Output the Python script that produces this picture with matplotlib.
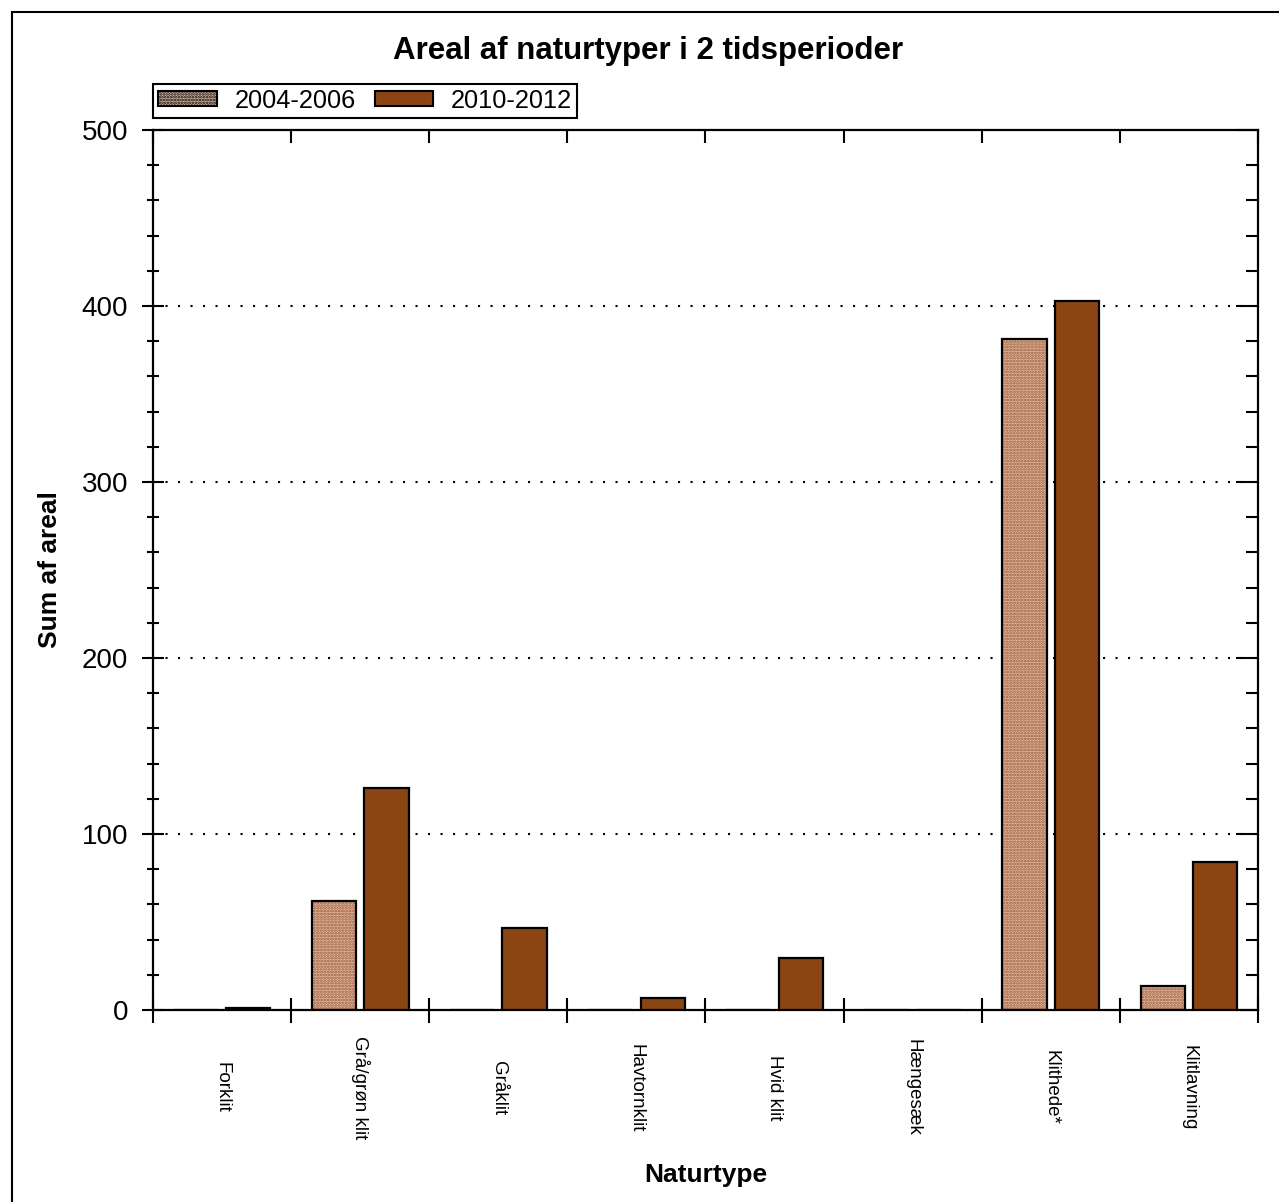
import numpy as np
import matplotlib
matplotlib.use("Agg")
import matplotlib.pyplot as plt
from matplotlib.patches import Rectangle, Patch
from matplotlib.ticker import MultipleLocator

plt.rcParams['font.family'] = ['Liberation Sans', 'DejaVu Sans']
plt.rcParams['hatch.linewidth'] = 1.3

# data
categories = ["Forklit", "Grå/grøn klit", "Gråklit", "Havtornklit",
              "Hvid klit", "Hængesæk", "Klithede*", "Klitlavning"]
areal_2004_2006 = [0, 62, 0, 0, 0, 0, 381, 13.5]
areal_2010_2012 = [1, 126, 46.5, 7, 29.5, 0, 403, 84]
series_labels = ["2004-2006", "2010-2012"]

c_light = '#e3bfa8'
c_dots = '#9a5530'
c_dark = '#8b4513'

fig = plt.figure(figsize=(12.79, 12.02), dpi=100)
ax = fig.add_axes([0.1196, 0.1597, 0.8640, 0.7321])

x = np.arange(len(categories))
w = 0.32
off = 0.19

# hatched fill first, then black outline on top
ax.bar(x - off, areal_2004_2006, w, color=c_light, edgecolor=c_dots,
       hatch='......', linewidth=0, zorder=2)
ax.bar(x - off, areal_2004_2006, w, fill=False, edgecolor='black',
       linewidth=1.6, zorder=3)
ax.bar(x + off, areal_2010_2012, w, color=c_dark, edgecolor='black',
       linewidth=1.6, zorder=3)

ax.set_xlim(-0.5, len(categories) - 0.5)
ax.set_ylim(0, 500)

# y axis
ax.yaxis.set_major_locator(MultipleLocator(100))
ax.yaxis.set_minor_locator(MultipleLocator(20))
ax.tick_params(axis='y', which='major', direction='inout', length=16, width=1.5,
               labelsize=20, right=True, pad=10)
ax.tick_params(axis='y', which='minor', direction='inout', length=9, width=1.5,
               right=True)
for t in ax.yaxis.get_major_ticks() + ax.yaxis.get_minor_ticks():
    t.tick2line.set_marker(matplotlib.lines.TICKLEFT)

# x axis: boundaries as minor ticks, labels at centres
ax.set_xticks(x)
ax.set_xticklabels(categories, rotation=270, va='center', ha='center',
                   fontsize=13.5)
ax.set_xticks(np.arange(len(categories) + 1) - 0.5, minor=True)
ax.tick_params(axis='x', which='major', length=0, pad=56)
ax.tick_params(axis='x', which='minor', direction='inout', length=18, width=1.5,
               top=True)
for t in ax.xaxis.get_minor_ticks():
    t.tick2line.set_marker(matplotlib.lines.TICKDOWN)
    t.tick2line.set_markersize(9)

# dotted grid at 100..400
for gy in [100, 200, 300, 400]:
    ax.axhline(gy, color='black', linestyle=(0, (1, 5)), linewidth=1.5, zorder=1)

for s in ax.spines.values():
    s.set_linewidth(1.6)

ax.set_ylabel("Sum af areal", fontsize=19, fontweight='bold', labelpad=14)
ax.set_xlabel("Naturtype", fontsize=19, fontweight='bold', labelpad=17)
fig.text(0.507, 0.9575, "Areal af naturtyper i 2 tidsperioder", fontsize=22.5,
         fontweight='bold', ha='center', va='center')

handles = [Patch(facecolor=c_light, edgecolor='black', hatch='......', linewidth=1.5),
           Patch(facecolor=c_dark, edgecolor='black', linewidth=1.5)]
leg = ax.legend(handles, series_labels, ncol=2, loc='lower left',
                bbox_to_anchor=(0, 1.014), borderaxespad=0, fontsize=18.3,
                fancybox=False, framealpha=1, edgecolor='black',
                handlelength=2.3, handleheight=0.55, handletextpad=0.7,
                columnspacing=0.75, borderpad=0.2)
leg.get_frame().set_linewidth(1.5)

# outer border of the image
fig.patches.append(Rectangle((0.009, -0.01), 1.2, 1.0, transform=fig.transFigure,
                             fill=False, edgecolor='black', linewidth=1.5))

fig.savefig("out.png", dpi=100)
